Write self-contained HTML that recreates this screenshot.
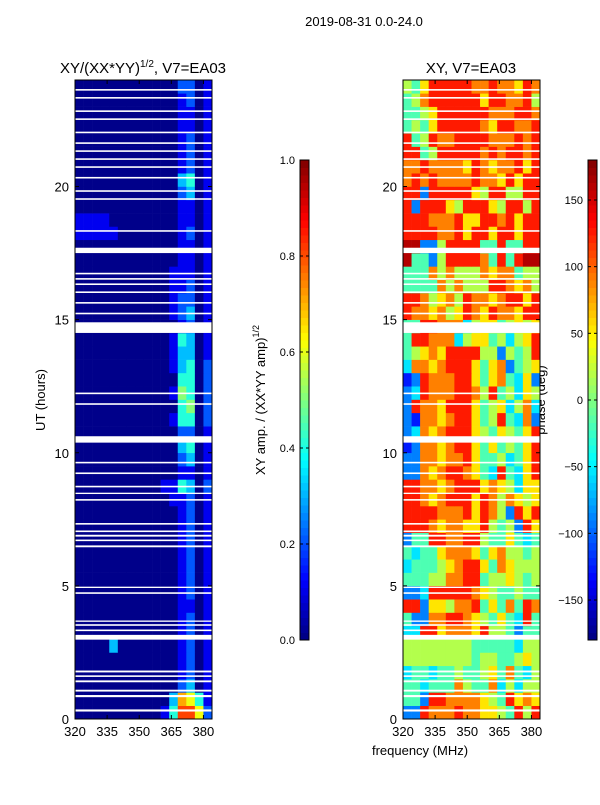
<!DOCTYPE html>
<html><head><meta charset="utf-8"><style>
body{margin:0;background:#fff;font-family:"Liberation Sans",sans-serif}
svg text{font-family:"Liberation Sans",sans-serif;fill:#000}
</style></head><body>
<svg id="fig" width="600" height="800" xmlns="http://www.w3.org/2000/svg">
<rect width="600" height="800" fill="#fff"/>
<text x="364" y="26" font-size="13" text-anchor="middle">2019-08-31 0.0-24.0</text>
<text x="143" y="73" font-size="15" text-anchor="middle">XY/(XX*YY)<tspan font-size="10" dy="-6">1/2</tspan><tspan dy="6">, V7=EA03</tspan></text>
<text x="471" y="73" font-size="15" text-anchor="middle">XY, V7=EA03</text>
<text transform="translate(45,400) rotate(-90)" font-size="13" text-anchor="middle">UT (hours)</text>
<text x="420" y="755" font-size="13" text-anchor="middle">frequency (MHz)</text>
<text transform="translate(265,400) rotate(-90)" font-size="13" text-anchor="middle">XY amp. / (XX*YY amp)<tspan font-size="9" dy="-6">1/2</tspan></text>
<text transform="translate(545,400) rotate(-90)" font-size="13" text-anchor="middle">phase (deg)</text>
<g id="plots"></g>
</svg>
<script>
// time rows (0.5 h each, bottom to top), 16 freq bins (4 MHz each, 320-384)
const ampRows=["0000000000148862","0000000000037641","0000000000002301","0000000000001201","0000000000001201","0000300000001201","0000000000001201","0000000000001201","0000000000001101","0000000000001201","0000000000001201","0000000000001201","0000000000001201","0000000000001201","0000000000001201","0000000000001201","0000000000011201","0000000000114302","0000000000001101","0000000000002301","0000000000003401","0000000000002201","0000000000014402","0000000000004502","0000000000015402","0000000000004402","0000000000013402","0000000000013301","0000000000014301","0000000000001201","0000000000012301","0000000000012201","0000000000011201","0000000000011101","0000000000001101","0000000000001101","1111100000001201","1111000000001101","0000000000001101","0000000000002301","0000000000003401","0000000000001201","0000000000001201","0000000000001201","0000000000001101","0000000000001101","0000000000001201","0000000000002201"];
const phaseRows=["2287778776654858","4428877776548676","4434447544735355","3443445445647435","5555555545544565","5555555544444355","3388677768554244","4227788765464384","8826657784647487","2238888876544544","4445577884556545","3444567886476555","4344677764675545","2448877885446434","8887677668545286","8888777868752868","8876788868757656","8877678886765366","2276788764384368","2277677864453468","1277678864645468","2376788865465468","2177678864584372","2877688864563573","2387778875845365","1287778864674362","3776788864672456","4567688885525458","4887773566453568","4488777356645656","8776756876877688","8875675877678868","4444757555887675","4447575557677455","9442588887484899","9922588884484488","8888778688688688","8887778668878688","8288865888658858","8828888865885588","7878777787768688","7787777687677868","8845888887878878","8458778888777878","4546888887688778","4456888888777887","4578888886887785","5468888877877687"];
const gaps=[[0.28,0.36],[0.82,0.9],[1.03,1.1],[1.38,1.45],[1.58,1.64],[1.75,1.82],[2.98,3.16],[3.3,3.36],[3.5,3.56],[3.65,3.7],[4.7,4.76],[4.92,4.97],[6.45,6.52],[6.68,6.74],[6.85,6.92],[7.02,7.08],[7.3,7.36],[8.2,8.26],[8.45,8.5],[8.7,8.76],[9.2,9.26],[9.6,9.66],[10.38,10.62],[11.8,11.86],[12.2,12.26],[14.5,14.9],[15.2,15.26],[15.6,15.66],[16.0,16.06],[16.3,16.36],[16.5,16.56],[16.7,16.76],[17.5,17.7],[18.3,18.36],[19.5,19.56],[19.8,19.86],[20.3,20.36],[20.7,20.76],[21.0,21.06],[21.3,21.36],[21.6,21.66],[22.0,22.06],[22.5,22.56],[22.8,22.86],[23.3,23.36],[23.6,23.66]];
const xTicks=[320,335,350,365,380];
const yTicks=[0,5,10,15,20];
const ampTicks=[0.0,0.2,0.4,0.6,0.8,1.0];
const phaseTicks=[-150,-100,-50,0,50,100,150];

const NS="http://www.w3.org/2000/svg";
const G=document.getElementById('plots');
function jet(v){v=Math.max(0,Math.min(1,v));
 const r=Math.max(0,Math.min(1,1.5-Math.abs(4*v-3))),g=Math.max(0,Math.min(1,1.5-Math.abs(4*v-2))),b=Math.max(0,Math.min(1,1.5-Math.abs(4*v-1)));
 return `rgb(${Math.round(r*255)},${Math.round(g*255)},${Math.round(b*255)})`;}
function mk(tag,at,parent){const e=document.createElementNS(NS,tag);for(const k in at)e.setAttribute(k,at[k]);(parent||G).appendChild(e);return e;}
const Y0=719,Y1=80,F0=320,F1=384;
const yS=t=>Y0+(Y1-Y0)*t/24;
function panel(x0,x1,rows,toNorm,name){
 const xS=f=>x0+(x1-x0)*(f-F0)/(F1-F0);
 const g=mk('g',{});
 
 
 const nb=rows[0].length,dt=24/rows.length,df=(F1-F0)/nb;
 rows.forEach((row,i)=>{for(let j=0;j<nb;j++){
  const r=mk('rect',{x:xS(F0+j*df),y:yS((i+1)*dt),width:xS(F0+(j+1)*df)-xS(F0+j*df)+0.3,height:yS(i*dt)-yS((i+1)*dt)+0.3,fill:jet(toNorm(+row[j]))},g);
  
  }});
 gaps.forEach(gp=>{const r=mk('rect',{x:x0,y:yS(gp[1]),width:x1-x0,height:yS(gp[0])-yS(gp[1]),fill:'#fff'},g);
  
  });
 mk('rect',{x:x0,y:Y1,width:x1-x0,height:Y0-Y1,fill:'none',stroke:'#000','stroke-width':1},g);
 xTicks.forEach(f=>{const x=xS(f);mk('line',{x1:x,x2:x,y1:Y0,y2:Y0-4,stroke:'#000'},g);mk('line',{x1:x,x2:x,y1:Y1,y2:Y1+4,stroke:'#000'},g);
  const t=mk('text',{x:x,y:Y0+17,'font-size':13,'text-anchor':'middle'},g);t.textContent=f;
  
  });
 yTicks.forEach(v=>{const y=yS(v);mk('line',{x1:x0,x2:x0+4,y1:y,y2:y,stroke:'#000'},g);mk('line',{x1:x1,x2:x1-4,y1:y,y2:y,stroke:'#000'},g);
  const t=mk('text',{x:x0-6,y:y+5,'font-size':13,'text-anchor':'end'},g);t.textContent=v;
  
  });
}
panel(75,212,ampRows,d=>0.01+d*0.1,'amplitude-heatmap');
panel(403,540,phaseRows,d=>(d+0.5)/10,'phase-heatmap');
function cbar(x,lo,hi,ticks,fmt,name){
 const g=mk('g',{});
 
 
 const T=160,B=640,N=64;
 for(let i=0;i<N;i++)mk('rect',{x:x,y:B-(i+1)*(B-T)/N,width:9,height:(B-T)/N+0.5,fill:jet((i+0.5)/N)},g);
 mk('rect',{x:x,y:T,width:9,height:B-T,fill:'none',stroke:'#000'},g);
 ticks.forEach(v=>{const y=B-(B-T)*(v-lo)/(hi-lo);mk('line',{x1:x,x2:x+3,y1:y,y2:y,stroke:'#000'},g);mk('line',{x1:x+9,x2:x+6,y1:y,y2:y,stroke:'#000'},g);
  const t=mk('text',{x:x-5,y:y+4,'font-size':11,'text-anchor':'end'},g);t.textContent=fmt(v);
  
  });
}
cbar(300,0,1,ampTicks,v=>v.toFixed(1),'amplitude-colorbar');
cbar(588,-180,180,phaseTicks,v=>v<0?'\u2212'+(-v):''+v,'phase-colorbar');
</script>
</body></html>
